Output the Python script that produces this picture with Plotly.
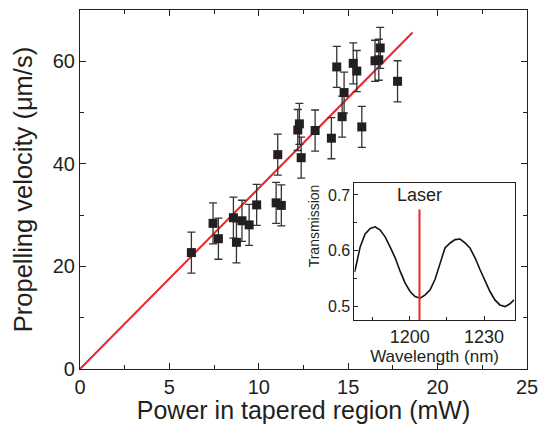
import plotly.graph_objects as go

# Main data: power (mW) vs propelling velocity (um/s)
power = [6.23, 7.44, 7.74, 8.58, 8.75, 9.06, 9.46, 9.88, 10.97, 11.26,
         11.06, 12.18, 12.27, 12.37, 13.15, 14.06, 14.36, 14.66, 14.77,
         15.28, 15.48, 15.76, 16.50, 16.71, 16.79, 17.76]
velocity = [22.7, 28.4, 25.4, 29.5, 24.7, 28.9, 28.1, 32.0, 32.4, 31.9,
            41.8, 46.6, 47.8, 41.2, 46.5, 45.0, 58.9, 49.2, 53.9,
            59.6, 58.1, 47.2, 60.1, 60.3, 62.6, 56.1]
vel_err = [4.0] * 26

# Linear fit line endpoints
fit_x = [0.0, 18.6]
fit_y = [0.0, 65.6]

# Inset: transmission spectrum
wavelength = [1177.6, 1177.9, 1179.9, 1181.9, 1184.0, 1186.0, 1188.0, 1190.0,
              1192.0, 1194.1, 1196.1, 1198.1, 1200.1, 1202.1, 1204.2, 1206.2,
              1208.2, 1210.2, 1212.2, 1214.2, 1216.3, 1218.3, 1220.3, 1222.3,
              1224.3, 1226.4, 1228.4, 1230.4, 1232.4, 1234.4, 1236.4, 1238.5,
              1240.5, 1242.1]
transmission = [0.562, 0.566, 0.607, 0.630, 0.640, 0.643, 0.637, 0.625,
                0.607, 0.587, 0.563, 0.542, 0.527, 0.518, 0.515, 0.521,
                0.530, 0.549, 0.577, 0.605, 0.614, 0.620, 0.621, 0.614,
                0.605, 0.587, 0.566, 0.545, 0.527, 0.512, 0.503, 0.500,
                0.505, 0.512]
laser_wl = 1203.9
laser_range = [0.476, 0.674]

x_ticks = [0, 5, 10, 15, 20, 25]
y_ticks = [0, 20, 40, 60]
inset_x_ticks = [1200, 1230]
inset_y_ticks = [0.5, 0.6, 0.7]

FONT = "Liberation Sans, Arial, sans-serif"
RED = "#e8262a"
AX = "#231f20"

fig = go.Figure()

fig.add_trace(go.Scatter(
    x=fit_x, y=fit_y, mode="lines",
    line=dict(color=RED, width=2), xaxis="x", yaxis="y", showlegend=False))

fig.add_trace(go.Scatter(
    x=power, y=velocity, mode="markers",
    marker=dict(symbol="square", size=9, color="#231f20"),
    error_y=dict(type="data", array=vel_err, visible=True,
                 color="#333333", thickness=1.3, width=4),
    xaxis="x", yaxis="y", showlegend=False))

fig.add_trace(go.Scatter(
    x=wavelength, y=transmission, mode="lines",
    line=dict(color="#111111", width=1.6), xaxis="x2", yaxis="y2", showlegend=False))

fig.add_trace(go.Scatter(
    x=[laser_wl, laser_wl], y=laser_range, mode="lines",
    line=dict(color=RED, width=2), xaxis="x2", yaxis="y2", showlegend=False))

main_axis = dict(showline=True, linecolor=AX, linewidth=1.2, mirror="ticks",
                 ticks="inside", ticklen=6, tickwidth=1.2, tickcolor=AX,
                 showgrid=False, zeroline=False, automargin=False,
                 ticklabeloverflow="allow",
                 tickfont=dict(family=FONT, size=20, color=AX))

fig.update_layout(
    width=538, height=424,
    margin=dict(l=80, r=11, t=10, b=55),
    paper_bgcolor="white", plot_bgcolor="white",
    font=dict(family=FONT, color=AX),
    xaxis=dict(main_axis, range=[0, 25], tickvals=x_ticks,
               minor=dict(dtick=2.5, ticks="inside", ticklen=4, tickcolor=AX),
               title=dict(text="Power in tapered region (mW)",
                          font=dict(family=FONT, size=25, color=AX), standoff=16)),
    yaxis=dict(main_axis, range=[0, 70], tickvals=y_ticks,
               minor=dict(dtick=10, ticks="inside", ticklen=4, tickcolor=AX),
               title=dict(text="Propelling velocity (\u03bcm/s)",
                          font=dict(family=FONT, size=25.5, color=AX), standoff=12)),
    xaxis2=dict(domain=[0.614, 0.9725], anchor="y2", range=[1177.6, 1242.4],
                tickvals=inset_x_ticks, showline=True, linecolor=AX, linewidth=1,
                mirror=True, ticks="inside", ticklen=4, tickcolor=AX,
                minor=dict(dtick=15, tick0=1200, ticks="inside", ticklen=3, tickcolor=AX),
                showgrid=False, zeroline=False, automargin=False,
                tickfont=dict(family=FONT, size=18, color=AX),
                title=dict(text="Wavelength (nm)",
                           font=dict(family=FONT, size=17, color=AX), standoff=0)),
    yaxis2=dict(domain=[0.1365, 0.519], anchor="x2", range=[0.476, 0.722],
                tickvals=inset_y_ticks, showline=True, linecolor=AX, linewidth=1,
                mirror=True, ticks="inside", ticklen=4, tickcolor=AX,
                minor=dict(dtick=0.05, tick0=0.5, ticks="inside", ticklen=3, tickcolor=AX),
                showgrid=False, zeroline=False, automargin=False,
                tickfont=dict(family=FONT, size=16, color=AX)),
    annotations=[
        dict(text="Laser", x=laser_wl, y=0.678, xref="x2", yref="y2",
             showarrow=False, yanchor="bottom",
             font=dict(family=FONT, size=18, color=AX)),
        dict(text="Transmission", x=0.524, y=0.398, xref="paper", yref="paper",
             textangle=-90, showarrow=False, xanchor="center", yanchor="middle",
             font=dict(family=FONT, size=14, color=AX)),
    ],
)

fig.write_html("out.html", config={"displayModeBar": False},
               post_script="document.body.style.margin='0';")
